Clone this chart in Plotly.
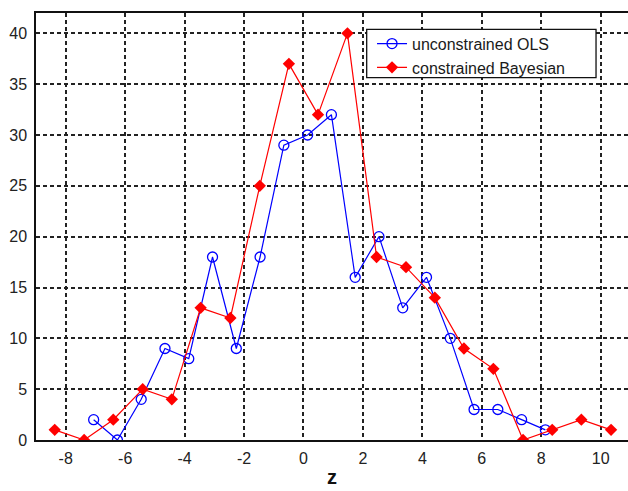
import plotly.graph_objects as go

# Data
ols_z = [-7.06, -6.26, -5.46, -4.66, -3.86, -3.06, -2.26, -1.46, -0.66, 0.14,
         0.94, 1.74, 2.54, 3.34, 4.14, 4.94, 5.74, 6.54, 7.34, 8.14]
ols_y = [2, 0, 4, 9, 8, 18, 9, 18, 29, 30, 32, 16, 20, 13, 16, 10, 3, 3, 2, 1]

bay_z = [-8.37, -7.38, -6.40, -5.41, -4.43, -3.46, -2.46, -1.47, -0.49, 0.49,
         1.48, 2.46, 3.45, 4.42, 5.40, 6.39, 7.39, 8.37, 9.35, 10.35]
bay_y = [1, 0, 2, 5, 4, 13, 12, 25, 37, 32, 40, 18, 17, 14, 9, 7, 0, 1, 2, 1]

x_ticks = [-8, -6, -4, -2, 0, 2, 4, 6, 8, 10]
y_ticks = [0, 5, 10, 15, 20, 25, 30, 35, 40]

FONT = "Liberation Sans, Arial, sans-serif"

fig = go.Figure()
fig.add_trace(go.Scatter(
    x=ols_z, y=ols_y, mode="lines+markers", name="unconstrained OLS",
    line=dict(color="#0000ff", width=1.2),
    marker=dict(symbol="circle-open", size=10, color="#0000ff", line=dict(width=1.3)),
))
fig.add_trace(go.Scatter(
    x=bay_z, y=bay_y, mode="lines+markers", name="constrained Bayesian",
    line=dict(color="#ff0000", width=1.2),
    marker=dict(symbol="diamond", size=9.5, color="#ff0000"),
))

axis_font = dict(family=FONT, size=16, color="#222")
fig.update_layout(
    width=628, height=491,
    margin=dict(l=36, r=0, t=13, b=51),
    paper_bgcolor="white", plot_bgcolor="white",
    font=axis_font,
    showlegend=True,
    legend=dict(
        x=0.5676, y=0.968, xanchor="left", yanchor="top",
        bgcolor="rgba(0,0,0,0)", borderwidth=0,
        font=dict(family=FONT, size=16, color="#1a1a1a"),
        tracegroupgap=0, itemwidth=30,
    ),
    shapes=[dict(
        type="rect", xref="paper", yref="paper",
        x0=0.5586, x1=0.946, y0=0.8485, y1=0.9618,
        line=dict(color="#111", width=1.3), fillcolor="white", layer="above",
    )],
    xaxis=dict(
        range=[-9, 10.92], tickvals=x_ticks, ticktext=[str(v) for v in x_ticks],
        showgrid=True, gridcolor="#222", gridwidth=1.5, griddash="4px,3px",
        showline=True, linecolor="#111", linewidth=1.5, mirror=True,
        zeroline=False, ticks="", tickfont=axis_font, ticklabelstandoff=3,
        title=dict(text="<b>z</b>", font=dict(family=FONT, size=20, color="#111"), standoff=4),
    ),
    yaxis=dict(
        range=[0, 42], tickvals=y_ticks, ticktext=[str(v) for v in y_ticks],
        showgrid=True, gridcolor="#222", gridwidth=1.5, griddash="4px,3px",
        showline=True, linecolor="#111", linewidth=1.5, mirror=False,
        zeroline=False, ticks="", tickfont=axis_font, ticklabelstandoff=4,
    ),
)

fig.write_html("out.html")
